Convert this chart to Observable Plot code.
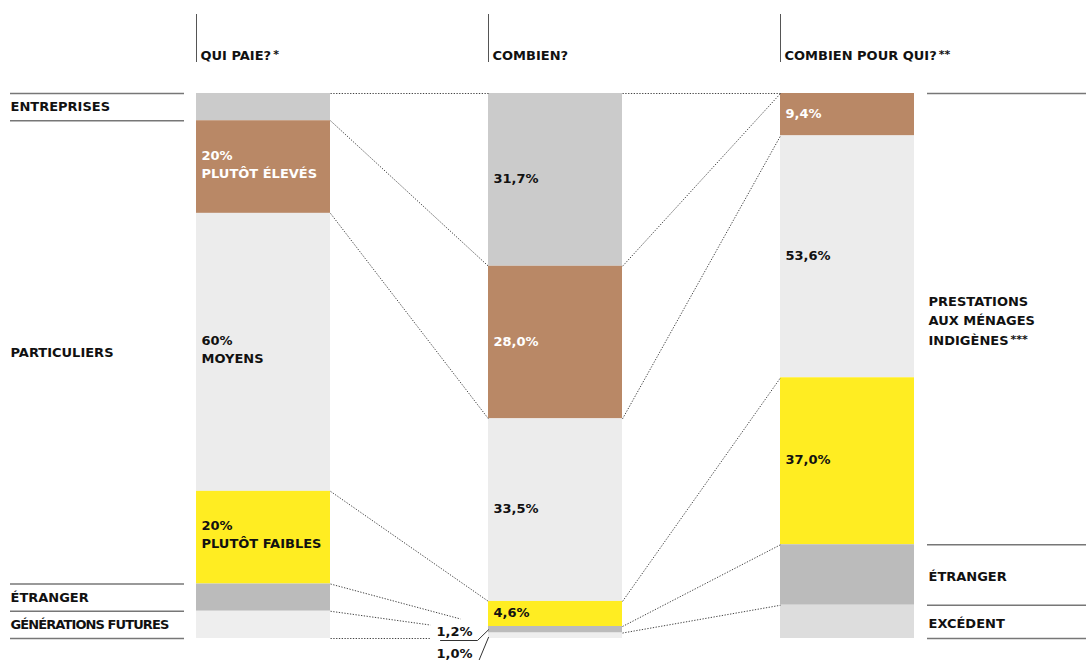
<!DOCTYPE html>
<html>
<head>
<meta charset="utf-8">
<script src="https://cdn.jsdelivr.net/npm/d3@7"></script>
<script src="https://cdn.jsdelivr.net/npm/@observablehq/plot@0.6"></script>
<style>
  html, body { margin: 0; padding: 0; background: #fff; }
  #chart svg { display: block; }
</style>
</head>
<body>
<div id="chart"></div>
<script>
// ---------- data ----------
const columns = ["QUI PAIE?", "COMBIEN?", "COMBIEN POUR QUI?"];
const columnMarks = ["*", "", "**"];

// Column 1: who pays (share of total, %)
const payerKeys = ["entreprises", "eleves", "moyens", "faibles", "etranger", "futures"];
const entreprisesShare = 5;
const particuliersShare = 85;
const particuliersSplit = [20, 60, 20];           // plutôt élevés / moyens / plutôt faibles
const particuliersNames = ["PLUTÔT ÉLEVÉS", "MOYENS", "PLUTÔT FAIBLES"];
const etrangerPayShare = 5;
const futuresShare = 5;

// Column 2: how much (%)
const amountKeys = ["entreprises", "eleves", "moyens", "faibles", "etranger", "futures"];
const amountShares = [31.7, 28.0, 33.5, 4.6, 1.2, 1.0];

// Column 3: how much for whom
const benefitKeys = ["eleves", "moyens", "faibles"];
const benefitShares = [9.4, 53.6, 37.0];          // % of benefits to domestic households
const prestationsShare = 82.8;
const etrangerRecShare = 11.1;
const excedentShare = 6.1;

const leftLabels = ["ENTREPRISES", "PARTICULIERS", "ÉTRANGER", "GÉNÉRATIONS FUTURES"];
const rightLabels = ["PRESTATIONS\nAUX MÉNAGES\nINDIGÈNES***", "ÉTRANGER", "EXCÉDENT"];

const colors = {
  entreprises: "#cbcbcb",
  eleves: "#b98866",
  moyens: "#ececec",
  faibles: "#ffed22",
  etranger: "#bbbbbb",
  futures: "#eeeeee",
  excedent: "#dddddd"
};

// ---------- layout constants ----------
const W = 1086, H = 660;
const TOP = 93, BOTTOM = 638;
const LEFT = 196, STEP = 292, BAR = 134;
const bw = BAR / STEP;
const px = p => (p - LEFT) / STEP;
const py = p => (p - TOP) * 100 / (BOTTOM - TOP);
const fmt = v => v.toFixed(1).replace(".", ",") + "%";

// ---------- build tables ----------
function stack(col, keys, values, labels) {
  let acc = 0;
  return values.map((v, i) => {
    const d = {col, key: keys[i], value: v, y1: acc, y2: acc + v, label: labels[i] || "",
               color: colors[keys[i]], tc: keys[i] === "eleves" ? "#ffffff" : "#111111"};
    acc += v;
    return d;
  });
}
const payValues = [entreprisesShare,
  ...particuliersSplit.map(s => particuliersShare * s / 100),
  etrangerPayShare, futuresShare];
const payLabels = ["", ...particuliersSplit.map((s, i) => `${s}%\n${particuliersNames[i]}`), "", ""];
const col1 = stack(0, payerKeys, payValues, payLabels);

const col2 = stack(1, amountKeys, amountShares, amountShares.map((v, i) => i < 4 ? fmt(v) : ""));

const recValues = [...benefitShares.map(s => prestationsShare * s / 100), etrangerRecShare, excedentShare];
const col3 = stack(2, [...benefitKeys, "etranger", "excedent"], recValues,
  [...benefitShares.map(fmt), "", ""]);

const segments = [...col1, ...col2, ...col3];
const multiLine = segments.filter(d => d.label.includes("\n"));
const singleLine = segments.filter(d => d.label && !d.label.includes("\n"));

// connectors: [from column, from y, to y, fraction of gap drawn]
const c1 = col1, c2 = col2, c3 = col3;
const connectors = [
  [0, 0, 0, 1],
  [0, c1[0].y2, c2[0].y2, 1],
  [0, c1[1].y2, c2[1].y2, 1],
  [0, c1[3].y1, c2[3].y1, 1],
  [0, c1[4].y1, c2[3].y2, 0.823],
  [0, c1[5].y1, c2[4].y2, 0.633],
  [0, c1[5].y2, c2[5].y2, 0.633],
  [1, 0, c3[0].y1, 1],
  [1, c2[0].y2, c3[0].y1, 1],
  [1, c2[1].y2, c3[0].y2, 1],
  [1, c2[3].y1, c3[2].y1, 1],
  [1, c2[3].y2, c3[3].y1, 1],
  [1, c2[4].y2, c3[4].y1, 1]
].map(([c, ya, yb, f]) => ({x1: c + bw, y1: ya, x2: c + bw + f * (1 - bw), y2: ya + f * (yb - ya)}));

const leftRules = [0, c1[0].y2, c1[4].y1, c1[5].y1, c1[5].y2];
const leftLabelY = [(0 + c1[0].y2) / 2, (c1[0].y2 + c1[4].y1) / 2, (c1[4].y1 + c1[5].y1) / 2, (c1[5].y1 + 100) / 2];
const rightRules = [0, c3[3].y1, c3[4].y1, 100];
const rightLabelY = [c3[3].y1 / 2, (c3[3].y1 + c3[4].y1) / 2, (c3[4].y1 + 100) / 2];

const smallLabels = [
  {text: fmt(amountShares[4]), y: py(631)},
  {text: fmt(amountShares[5]), y: py(653)}
];
const leader1 = [{x: px(440), y: py(640)}, {x: px(477), y: py(640)}, {x: 1, y: (c2[4].y1 + c2[4].y2) / 2}];
const leader2 = [{x: px(478), y: py(661)}, {x: 1, y: (c2[5].y1 + c2[5].y2) / 2 + 0.3}];

const font = "'DejaVu Sans', sans-serif";

const chart = Plot.plot({
  width: W,
  height: H,
  marginLeft: 0,
  marginRight: 0,
  marginTop: TOP,
  marginBottom: H - BOTTOM,
  x: {domain: [px(0), px(W)], axis: null},
  y: {domain: [0, 100], reverse: true, axis: null},
  style: {fontFamily: font, fontSize: "13px", fontWeight: "bold", background: "#fff", overflow: "visible"},
  marks: [
    Plot.rect(segments, {x1: d => d.col, x2: d => d.col + bw, y1: "y1", y2: "y2", fill: "color"}),
    Plot.link(connectors, {x1: "x1", y1: "y1", x2: "x2", y2: "y2", stroke: "#444", strokeWidth: 1, strokeDasharray: "1.3,1.5"}),
    // column headers
    Plot.ruleX(columns, {x: (d, i) => i, y1: py(14), y2: py(62), stroke: "#555", strokeWidth: 1}),
    Plot.text(columns, {x: (d, i) => i, y: py(55), dx: 4, text: (d, i) => d + (columnMarks[i] ? "\u2009" + columnMarks[i] : ""), textAnchor: "start", fill: "#111"}),
    // left side
    Plot.ruleY(leftRules, {y: d => d, x1: px(10), x2: px(184), stroke: "#777", strokeWidth: 1.5}),
    Plot.text(leftLabels, {x: px(10), y: (d, i) => leftLabelY[i], text: d => d, textAnchor: "start", fill: "#111"}),
    // right side
    Plot.ruleY(rightRules, {y: d => d, x1: px(927), x2: px(1086), stroke: "#777", strokeWidth: 1.5}),
    Plot.text(rightLabels, {x: px(928), y: (d, i) => rightLabelY[i], text: d => d, textAnchor: "start", lineHeight: 1.5, fill: "#111"}),
    // in-bar labels
    Plot.text(multiLine, {x: d => d.col, y: d => (d.y1 + d.y2) / 2, dx: 5, dy: -4, text: "label", textAnchor: "start", lineHeight: 1.38, fill: "tc"}),
    Plot.text(singleLine, {x: d => d.col, y: d => (d.y1 + d.y2) / 2, dx: 5, dy: -1, text: "label", textAnchor: "start", fill: "tc"}),
    // small labels
    Plot.text(smallLabels, {x: 1, y: "y", dx: -16, text: "text", textAnchor: "end", fill: "#111"}),
    Plot.line(leader1, {x: "x", y: "y", stroke: "#333", strokeWidth: 1}),
    Plot.line(leader2, {x: "x", y: "y", stroke: "#333", strokeWidth: 1})
  ]
});

// small raised asterisks
d3.select(chart).selectAll("text, tspan").each(function () {
  const el = this;
  if (el.childElementCount) return;
  const t = el.textContent;
  const m = t.match(/^(.*?)[\u2009]?(\*+)$/);
  if (!m) return;
  el.textContent = m[1];
  const sup = document.createElementNS("http://www.w3.org/2000/svg", "tspan");
  sup.setAttribute("font-size", "11");
  sup.setAttribute("dy", "-2");
  sup.setAttribute("dx", "2");
  sup.textContent = m[2];
  el.appendChild(sup);
});
// the reference sets this long label a little tighter
d3.select(chart).selectAll("text").filter(function () { return this.textContent === "GÉNÉRATIONS FUTURES"; })
  .attr("letter-spacing", "-0.9");

document.getElementById("chart").appendChild(chart);
</script>
</body>
</html>
